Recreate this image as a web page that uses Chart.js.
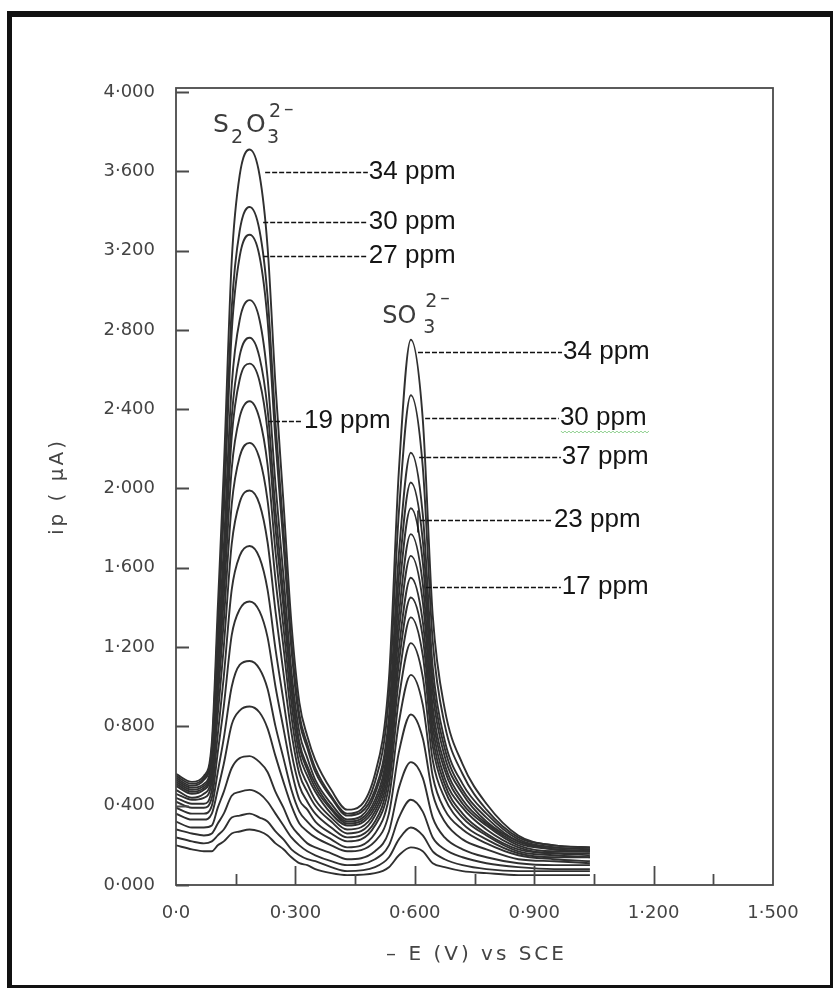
<!DOCTYPE html>
<html>
<head>
<meta charset="utf-8">
<script src="https://cdn.jsdelivr.net/npm/chart.js@4"></script>
<style>
  html, body { margin: 0; padding: 0; background: #fff; }
  #frame { position: absolute; left: 7px; top: 11px; width: 818px; height: 968px; border: 5px solid #111; border-top-width: 6px; border-bottom-width: 3px; border-right-width: 3px; }
  #chart { position: absolute; left: 0; top: 0; }
</style>
</head>
<body>
<div id="frame"></div>
<canvas id="chart" width="834" height="989"></canvas>
<script>
// potential axis (-E, V vs SCE) shared by all the traces
const potential = [0, 0.04, 0.07, 0.09, 0.105, 0.12, 0.14, 0.16, 0.185, 0.21, 0.23, 0.25, 0.27, 0.29, 0.31, 0.33, 0.35, 0.39, 0.43, 0.50, 0.535, 0.56, 0.59, 0.62, 0.645, 0.675, 0.72, 0.78, 0.86, 0.95, 1.04];

const curve01 = [0.56,0.52,0.55,0.72,1.40,2.09,3.15,3.58,3.71,3.58,3.22,2.52,1.93,1.32,0.92,0.75,0.63,0.48,0.38,0.56,1.04,2.09,2.75,2.35,1.36,0.89,0.61,0.41,0.25,0.20,0.19];
const curve02 = [0.55,0.51,0.54,0.69,1.31,1.94,2.91,3.30,3.42,3.30,2.97,2.33,1.79,1.23,0.86,0.71,0.59,0.45,0.36,0.52,0.95,1.88,2.47,2.11,1.23,0.81,0.56,0.38,0.24,0.20,0.19];
const curve03 = [0.54,0.50,0.53,0.67,1.27,1.87,2.79,3.17,3.28,3.17,2.85,2.24,1.72,1.19,0.83,0.69,0.57,0.44,0.35,0.48,0.85,1.67,2.18,1.87,1.10,0.73,0.51,0.36,0.23,0.19,0.18];
const curve04 = [0.53,0.49,0.51,0.64,1.17,1.70,2.52,2.85,2.95,2.85,2.56,2.02,1.56,1.08,0.77,0.64,0.53,0.41,0.33,0.46,0.80,1.56,2.03,1.74,1.03,0.69,0.48,0.34,0.22,0.19,0.18];
const curve05 = [0.52,0.48,0.50,0.62,1.11,1.61,2.36,2.67,2.76,2.66,2.40,1.89,1.46,1.02,0.72,0.60,0.51,0.39,0.32,0.43,0.75,1.46,1.90,1.63,0.97,0.65,0.46,0.32,0.22,0.18,0.17];
const curve06 = [0.51,0.47,0.49,0.60,1.07,1.54,2.26,2.55,2.63,2.54,2.29,1.80,1.40,0.98,0.70,0.58,0.49,0.38,0.31,0.41,0.71,1.36,1.77,1.52,0.90,0.61,0.43,0.31,0.21,0.18,0.17];
const curve07 = [0.50,0.46,0.48,0.58,1.01,1.44,2.10,2.36,2.44,2.35,2.12,1.68,1.30,0.92,0.66,0.55,0.47,0.36,0.30,0.39,0.67,1.28,1.66,1.43,0.85,0.58,0.41,0.30,0.20,0.17,0.17];
const curve08 = [0.48,0.44,0.46,0.55,0.94,1.33,1.92,2.16,2.23,2.15,1.94,1.54,1.20,0.85,0.61,0.51,0.43,0.34,0.28,0.37,0.63,1.19,1.55,1.33,0.80,0.54,0.39,0.28,0.19,0.16,0.16];
const curve09 = [0.46,0.43,0.44,0.52,0.86,1.20,1.72,1.93,1.99,1.92,1.73,1.38,1.07,0.77,0.56,0.47,0.40,0.32,0.26,0.35,0.59,1.12,1.45,1.25,0.75,0.51,0.36,0.26,0.18,0.16,0.15];
const curve10 = [0.44,0.41,0.41,0.48,0.76,1.05,1.49,1.66,1.71,1.65,1.49,1.19,0.93,0.67,0.50,0.42,0.36,0.29,0.24,0.32,0.55,1.04,1.35,1.16,0.70,0.48,0.34,0.25,0.17,0.15,0.14];
const curve11 = [0.42,0.39,0.39,0.44,0.67,0.90,1.26,1.39,1.43,1.38,1.25,1.00,0.79,0.58,0.43,0.38,0.32,0.26,0.22,0.30,0.50,0.94,1.22,1.05,0.63,0.44,0.31,0.23,0.16,0.14,0.14];
const curve12 = [0.39,0.36,0.36,0.40,0.57,0.74,1.00,1.11,1.13,1.09,0.99,0.80,0.64,0.48,0.37,0.32,0.28,0.23,0.19,0.26,0.44,0.82,1.06,0.91,0.55,0.38,0.28,0.21,0.15,0.13,0.12];
const curve13 = [0.36,0.33,0.33,0.36,0.48,0.61,0.81,0.88,0.90,0.87,0.79,0.65,0.52,0.40,0.31,0.27,0.24,0.20,0.17,0.22,0.36,0.67,0.86,0.74,0.46,0.32,0.23,0.18,0.13,0.12,0.11];
const curve14 = [0.32,0.29,0.29,0.30,0.39,0.47,0.59,0.64,0.65,0.62,0.57,0.47,0.39,0.30,0.25,0.21,0.19,0.16,0.13,0.17,0.27,0.49,0.62,0.54,0.34,0.24,0.18,0.14,0.11,0.10,0.10];
const curve15 = [0.28,0.26,0.25,0.26,0.31,0.36,0.45,0.47,0.48,0.46,0.42,0.36,0.30,0.24,0.20,0.17,0.15,0.12,0.10,0.13,0.20,0.34,0.43,0.37,0.24,0.18,0.14,0.11,0.09,0.08,0.08];
const curve16 = [0.24,0.22,0.21,0.22,0.25,0.28,0.34,0.35,0.36,0.34,0.32,0.27,0.23,0.18,0.15,0.13,0.12,0.09,0.07,0.09,0.14,0.23,0.29,0.25,0.17,0.13,0.10,0.08,0.07,0.07,0.07];
const curve17 = [0.20,0.18,0.17,0.17,0.20,0.22,0.26,0.27,0.28,0.27,0.25,0.21,0.18,0.14,0.11,0.10,0.08,0.06,0.05,0.06,0.09,0.15,0.19,0.17,0.11,0.09,0.07,0.06,0.05,0.05,0.05];

const curves = [curve01, curve02, curve03, curve04, curve05, curve06, curve07, curve08, curve09,
  curve10, curve11, curve12, curve13, curve14, curve15, curve16, curve17];

// tick labels as printed (middle dot decimal separator)
const yTickLabels = ['0·000', '0·400', '0·800', '1·200', '1·600', '2·000', '2·400', '2·800', '3·200', '3·600', '4·000'];
const xTickLabels = ['0·0', '0·300', '0·600', '0·900', '1·200', '1·500'];

// concentration notes on the two peak families
const ppmLeft = ['34 ppm', '30 ppm', '27 ppm', '19 ppm'];
const ppmRight = ['34 ppm', '30 ppm', '37 ppm', '23 ppm', '17 ppm'];

// where each note sits: [line start (V), line end (V), level (uA)]
const leftNotePos = [[0.224, 0.482, 3.596], [0.219, 0.482, 3.344], [0.219, 0.482, 3.172], [0.231, 0.319, 2.340]];
const rightNotePos = [[0.608, 0.970, 2.688], [0.626, 0.962, 2.355], [0.611, 0.967, 2.159], [0.613, 0.947, 1.841], [0.628, 0.967, 1.503]];

const grey = '#444';

const decorations = {
  id: 'decorations',
  afterDatasetsDraw(chart) {
    const { ctx, chartArea: a, scales: { x, y } } = chart;
    ctx.save();

    // plot box
    ctx.strokeStyle = '#4a4a4a';
    ctx.lineWidth = 1.8;
    ctx.strokeRect(a.left, a.top, a.right - a.left, a.bottom - a.top);

    // inward ticks
    ctx.beginPath();
    y.ticks.forEach(t => {
      const py = Math.round(y.getPixelForValue(t.value)) + 0.5;
      ctx.moveTo(a.left, py);
      ctx.lineTo(a.left + 13, py);
    });
    for (let k = 1; k < 10; k++) {
      const px = Math.round(x.getPixelForValue(k * 0.15)) + 0.5;
      ctx.moveTo(px, a.bottom);
      ctx.lineTo(px, a.bottom - (k % 2 === 0 ? 19 : 11));
    }
    ctx.stroke();

    // axis titles, spaced out like the original lettering
    ctx.fillStyle = grey;
    ctx.font = '20px "DejaVu Sans"';
    ctx.letterSpacing = '3px';
    ctx.textAlign = 'center';
    ctx.textBaseline = 'middle';
    ctx.fillText('– E (V) vs SCE', (a.left + a.right) / 2 + 2, 955);
    ctx.save();
    ctx.translate(58, (a.top + a.bottom) / 2);
    ctx.rotate(-Math.PI / 2);
    ctx.fillText('ip ( μA)', 0, 0);
    ctx.restore();
    ctx.letterSpacing = '0px';

    // dashed leader lines and ppm notes
    const note = (text, pos) => {
      const x0 = x.getPixelForValue(pos[0]);
      const x1 = x.getPixelForValue(pos[1]);
      const py = Math.round(y.getPixelForValue(pos[2])) + 0.5;
      ctx.strokeStyle = '#111';
      ctx.lineWidth = 1.5;
      ctx.setLineDash([5, 2]);
      ctx.beginPath();
      ctx.moveTo(x0, py);
      ctx.lineTo(x1, py);
      ctx.stroke();
      ctx.setLineDash([]);
      ctx.fillStyle = '#151515';
      ctx.font = '26px "Liberation Sans"';
      ctx.textAlign = 'left';
      ctx.textBaseline = 'middle';
      ctx.fillText(text, x1 + 1, py - 1);
      return { x1, py };
    };
    ppmLeft.forEach((t, i) => note(t, leftNotePos[i]));
    const marks = ppmRight.map((t, i) => note(t, rightNotePos[i]));

    // little vertical stroke on the 23 ppm leader
    const m23 = x.getPixelForValue(rightNotePos[3][0]) - 2;
    ctx.strokeStyle = '#111';
    ctx.lineWidth = 1.4;
    ctx.beginPath();
    ctx.moveTo(m23, marks[3].py - 10);
    ctx.lineTo(m23, marks[3].py + 12);
    ctx.stroke();

    // spell-check squiggle under the second "30 ppm"
    const sq = marks[1];
    ctx.strokeStyle = '#8ccf8c';
    ctx.lineWidth = 1;
    ctx.beginPath();
    for (let i = 0; i <= 44; i++) {
      const px = sq.x1 + 2 + i * 2;
      const py = sq.py + 13 + (i % 2 ? 1.5 : -0.5);
      if (i === 0) ctx.moveTo(px, py); else ctx.lineTo(px, py);
    }
    ctx.stroke();

    // ion labels
    ctx.fillStyle = '#3c3c3c';
    ctx.textAlign = 'left';
    ctx.textBaseline = 'alphabetic';
    const lx = x.getPixelForValue(0.093);
    const ly = y.getPixelForValue(3.797);
    ctx.font = '25px "DejaVu Sans"';
    ctx.fillText('S', lx, ly);
    ctx.fillText('O', lx + 33, ly);
    ctx.font = '19px "DejaVu Sans"';
    ctx.fillText('2', lx + 18, ly + 11);
    ctx.fillText('3', lx + 54, ly + 11);
    ctx.fillText('2', lx + 56, ly - 15);
    ctx.fillText('–', lx + 71, ly - 17);

    const sx = x.getPixelForValue(0.518);
    const sy = y.getPixelForValue(2.835);
    ctx.font = '24px "DejaVu Sans"';
    ctx.fillText('SO', sx, sy);
    ctx.font = '19px "DejaVu Sans"';
    ctx.fillText('3', sx + 41, sy + 10);
    ctx.fillText('2', sx + 43, sy - 16);
    ctx.fillText('–', sx + 58, sy - 19);

    ctx.restore();
  }
};

new Chart(document.getElementById('chart'), {
  type: 'line',
  data: {
    datasets: curves.map(c => ({
      data: c.map((v, i) => ({ x: potential[i], y: v })),
      borderColor: '#303030',
      borderWidth: 1.9,
      pointRadius: 0,
      cubicInterpolationMode: 'monotone',
      fill: false
    }))
  },
  options: {
    responsive: false,
    animation: false,
    devicePixelRatio: 1,
    layout: { padding: { top: 88, right: 61, left: 0, bottom: 0 } },
    plugins: { legend: { display: false }, tooltip: { enabled: false } },
    scales: {
      x: {
        type: 'linear',
        min: 0,
        max: 1.5,
        afterFit: s => { s.height = 104; },
        grid: { display: false, drawTicks: false },
        border: { display: false },
        ticks: {
          stepSize: 0.3,
          includeBounds: false,
          padding: 18,
          maxRotation: 0,
          autoSkip: false,
          color: grey,
          font: { family: 'DejaVu Sans', size: 18 },
          callback: (v, i) => xTickLabels[i]
        }
      },
      y: {
        type: 'linear',
        min: 0,
        max: 4.02,
        afterFit: s => { s.width = 176; },
        grid: { display: false, drawTicks: false },
        border: { display: false },
        ticks: {
          stepSize: 0.4,
          includeBounds: false,
          padding: 21,
          color: grey,
          font: { family: 'DejaVu Sans', size: 18 },
          callback: (v, i) => yTickLabels[i]
        }
      }
    }
  },
  plugins: [decorations]
});
</script>
</body>
</html>
